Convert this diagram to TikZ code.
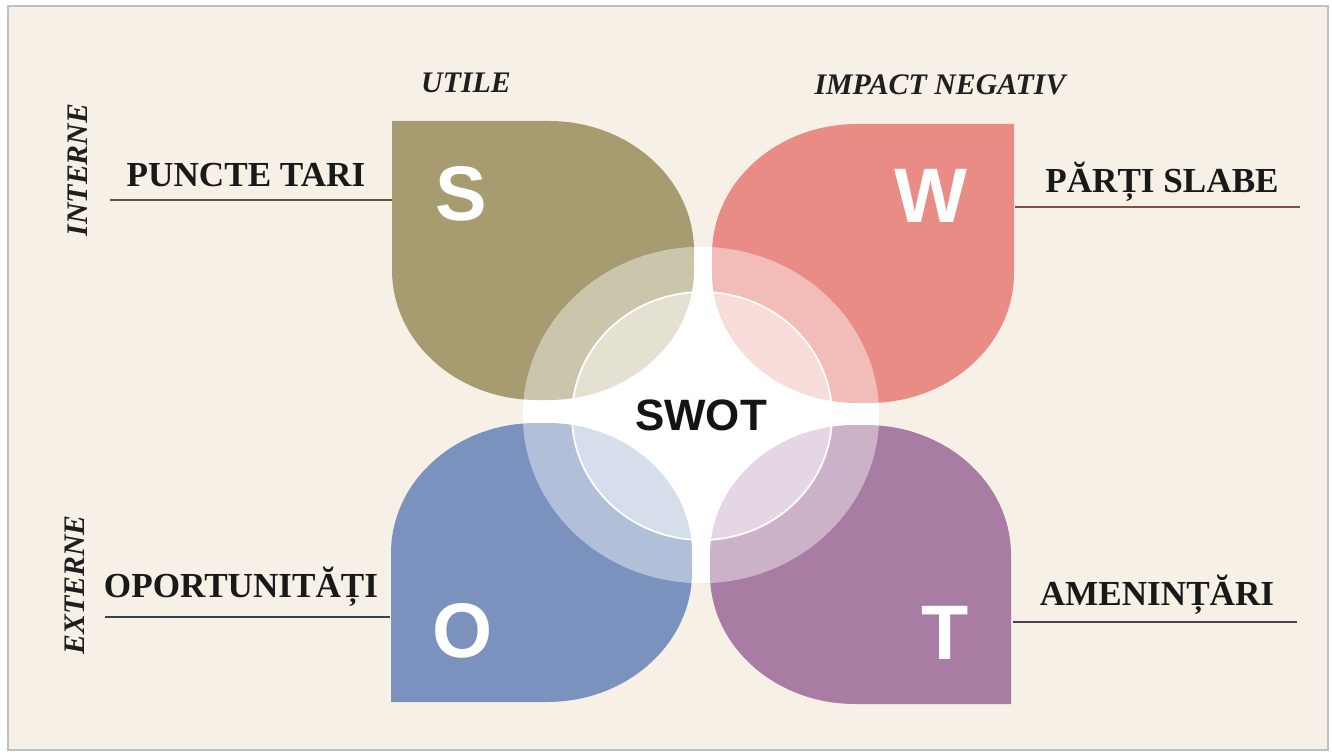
\documentclass[tikz,border=0pt]{standalone}
\usepackage{fontspec}
\setmainfont{Liberation Serif}
\newfontfamily\swotsans{Liberation Sans}

\definecolor{paper}{RGB}{247,240,231}
\definecolor{frame}{RGB}{190,192,200}
\definecolor{colS}{RGB}{166,156,112}
\definecolor{colW}{RGB}{233,140,134}
\definecolor{colO}{RGB}{124,146,190}
\definecolor{colT}{RGB}{168,124,163}

% petal outlines, used again for the ring and the inner circle
\newcommand{\petalS}{(392,634) -- (549,634) arc[start angle=90, end angle=0, corner]
    -- (694,485) arc[start angle=0, end angle=-90, corner]
    -- (537,355) arc[start angle=-90, end angle=-180, corner] -- cycle}
\newcommand{\petalW}{(1014,631) -- (1014,482) arc[start angle=0, end angle=-90, corner]
    -- (857,352) arc[start angle=-90, end angle=-180, corner]
    -- (712,501) arc[start angle=180, end angle=90, corner] -- cycle}
\newcommand{\petalO}{(391,53) -- (391,202) arc[start angle=180, end angle=90, corner]
    -- (547,332) arc[start angle=90, end angle=0, corner]
    -- (692,183) arc[start angle=0, end angle=-90, corner] -- cycle}
\newcommand{\petalT}{(1011,51) -- (855,51) arc[start angle=-90, end angle=-180, corner]
    -- (710,200) arc[start angle=180, end angle=90, corner]
    -- (866,330) arc[start angle=90, end angle=0, corner] -- cycle}

\begin{document}
\begin{tikzpicture}[
    x=0.02cm, y=0.02cm,
    label/.style={font=\fontsize{20}{24}\selectfont\bfseries, text=black!90, inner sep=0pt, anchor=base},
    head/.style={font=\fontsize{17}{20}\selectfont\bfseries\itshape, text=black!88, inner sep=0pt},
    letter/.style={font=\swotsans\fontsize{44}{50}\selectfont\bfseries, text=white, inner sep=0pt},
    underline/.style={line width=1pt},
    corner/.style={x radius=145, y radius=130}
]

% Page and frame
\useasboundingbox (0,0) rectangle (1332,755);
\fill[white] (0,0) rectangle (1332,755);
\fill[paper] (8,5) rectangle (1328,749);
\draw[frame, line width=0.6pt] (8,5) rectangle (1328,749);

% Petals
\fill[colS] \petalS;
\fill[colW] \petalW;
\fill[colO] \petalO;
\fill[colT] \petalT;

% Outer ring
\fill[white] (701,340) ellipse[x radius=178, y radius=168];
\begin{scope}
  \clip (701,340) ellipse[x radius=178, y radius=168];
  \fill[colS, opacity=0.58] \petalS;
  \fill[colW, opacity=0.58] \petalW;
  \fill[colO, opacity=0.58] \petalO;
  \fill[colT, opacity=0.58] \petalT;
\end{scope}

% Inner circle
\fill[white] (702,339) ellipse[x radius=130, y radius=124];
\begin{scope}
  \clip (702,339) ellipse[x radius=130, y radius=124];
  \fill[colS, opacity=0.3] \petalS;
  \fill[colW, opacity=0.3] \petalW;
  \fill[colO, opacity=0.3] \petalO;
  \fill[colT, opacity=0.3] \petalT;
\end{scope}
\draw[white, line width=1pt] (702,339) ellipse[x radius=130, y radius=124];

% Centre text
\node[font=\swotsans\fontsize{25}{30}\selectfont\bfseries, text=black!92] (swot) at (701,340) {SWOT};

% Letters
\node[letter] (litS) at (461,561) {S};
\node[letter] (litW) at (931,559) {W};
\node[letter] (litO) at (463,124) {O};
\node[letter] (litT) at (945,122) {T};

% Column headers
\node[head] (utile) at (466,672) {UTILE};
\node[head] (impact) at (940,670) {IMPACT NEGATIV};

% Row headers
\node[head, rotate=90] (interne) at (78,585) {INTERNE};
\node[head, rotate=90] (externe) at (75,170) {EXTERNE};

% Labels
\node[label] (tari) at (246,568) {PUNCTE TARI};
\node[label] (slabe) at (1162,562) {PĂRȚI SLABE};
\node[label] (oport) at (241,158) {OPORTUNITĂȚI};
\node[label] (amen) at (1157,150) {AMENINȚĂRI};

% Underlines
\coordinate (tari_l) at (110,555);
\coordinate (tari_r) at (392,555);
\coordinate (slabe_l) at (1015,548);
\coordinate (slabe_r) at (1300,548);
\coordinate (oport_l) at (105,138);
\coordinate (oport_r) at (390,138);
\coordinate (amen_l) at (1013,133);
\coordinate (amen_r) at (1297,133);
\draw[underline, black!45!colS] (tari_l) -- (tari_r);
\draw[underline, black!45!colW] (slabe_l) -- (slabe_r);
\draw[underline, black!55!colO] (oport_l) -- (oport_r);
\draw[underline, black!50!colT] (amen_l) -- (amen_r);

\end{tikzpicture}
\end{document}
